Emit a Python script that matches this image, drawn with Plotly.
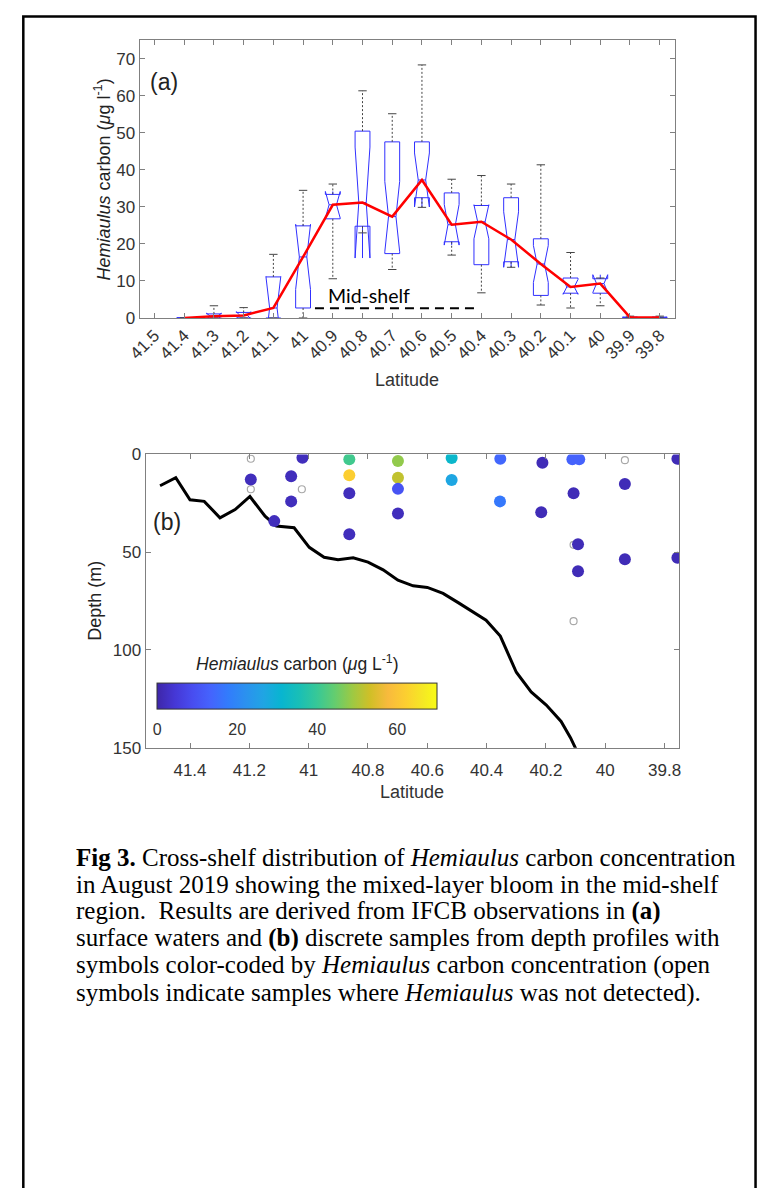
import plotly.graph_objects as go

W, H = 759, 1188

# ---------------- Panel (a) data ----------------
lat_ticks = [41.5, 41.4, 41.3, 41.2, 41.1, 41.0, 40.9, 40.8, 40.7, 40.6,
             40.5, 40.4, 40.3, 40.2, 40.1, 40.0, 39.9, 39.8]
lat_tick_labels = ["41.5", "41.4", "41.3", "41.2", "41.1", "41", "40.9", "40.8", "40.7",
                   "40.6", "40.5", "40.4", "40.3", "40.2", "40.1", "40", "39.9", "39.8"]

box_lat = [41.4, 41.3, 41.2, 41.1, 41.0, 40.9, 40.8, 40.7, 40.6,
           40.5, 40.4, 40.3, 40.2, 40.1, 40.0, 39.9, 39.8]
box_q1 = [0, 0, 0, 0, 2.7, 26.8, 24.8, 17.4, 32.5, 20.6, 14.4, 15.2, 6.1, 6.7, 6.7, 0, 0]
box_median = [0, 0.5, 0.7, 2.7, 16.5, 30.6, 31.2, 27.4, 37.3, 25.2, 26.0, 21.2, 14.6, 8.4, 9.3, 0.15, 0.15]
box_q3 = [0, 1.1, 1.5, 11.1, 24.9, 33.4, 50.5, 47.6, 47.6, 33.8, 30.4, 32.5, 21.4, 10.8, 10.6, 0.2, 0.2]
box_notch = [0, 0.8, 1.0, 8.5, 8.8, 3.6, 15.0, 9.5, 7.3, 5.5, 4.6, 7.5, 5.0, 2.0, 2.4, 0.1, 0.1]
whisker_low = [0, 0, 0, 0, 0, 10.6, 23.0, 13.1, 29.9, 17.0, 6.8, 13.7, 3.5, 2.7, 3.3, 0, 0]
whisker_high = [0, 3.3, 2.8, 17.2, 34.5, 36.2, 61.4, 55.2, 68.4, 37.5, 38.5, 36.2, 41.4, 17.7, 10.8, 0.5, 0.5]

midshelf_lat = [40.96, 40.42]
midshelf_level = [2.6, 2.6]

# ---------------- Panel (b) data ----------------
sample_lat = [41.195, 41.021, 41.059, 41.059, 41.116,
              40.863, 40.863, 40.863, 40.863,
              40.699, 40.699, 40.699, 40.699,
              40.518, 40.518,
              40.354, 40.355,
              40.212, 40.216,
              40.111, 40.088, 40.107, 40.092, 40.092,
              39.934, 39.934,
              39.757, 39.757]
sample_depth = [12.8, 1.7, 11.1, 24.0, 34.1,
                2.5, 10.6, 19.8, 40.8,
                3.4, 11.9, 17.6, 30.2,
                1.8, 13.1,
                2.2, 24.0,
                4.2, 29.6,
                2.5, 2.5, 19.8, 45.9, 59.8,
                15.1, 53.6,
                2.2, 52.8]
sample_carbon = [2, 2, 2, 2, 2,
                 41, 62, 2, 2,
                 48, 52, 10, 2,
                 32, 27,
                 14, 17,
                 1.5, 1.5,
                 13, 13, 1.5, 1.5, 1.5,
                 1.5, 1.5,
                 1.5, 1.5]

nd_lat = [41.195, 41.195, 41.023, 40.107, 40.107, 39.934]
nd_depth = [2.2, 17.8, 17.8, 46.2, 85.3, 2.9]

bottom_lat = [41.501, 41.448, 41.400, 41.352, 41.299, 41.248, 41.198, 41.147, 41.109,
              41.049, 40.998, 40.948, 40.901, 40.850, 40.800, 40.749, 40.699, 40.648,
              40.600, 40.547, 40.496, 40.450, 40.402, 40.354, 40.300, 40.250, 40.199,
              40.149, 40.117, 40.095]
bottom_depth = [16.0, 11.9, 23.2, 24.0, 32.4, 28.2, 21.5, 31.6, 36.6,
                37.5, 47.5, 52.6, 53.8, 52.9, 55.1, 59.0, 64.3, 67.2,
                68.0, 71.1, 75.8, 80.0, 84.8, 92.9, 111.4, 121.5, 128.2,
                136.6, 145.0, 152.0]

depth_ticks = [0, 50, 100, 150]
b_lat_ticks = [41.4, 41.2, 41.0, 40.8, 40.6, 40.4, 40.2, 40.0, 39.8]
b_lat_labels = ["41.4", "41.2", "41", "40.8", "40.6", "40.4", "40.2", "40", "39.8"]
cbar_ticks = [0, 20, 40, 60]

caption_lines = [
    "<b>Fig 3.</b> Cross-shelf distribution of <i>Hemiaulus</i> carbon concentration",
    "in August 2019 showing the mixed-layer bloom in the mid-shelf",
    "region.\u00a0 Results are derived from IFCB observations in <b>(a)</b>",
    "surface waters and <b>(b)</b> discrete samples from depth profiles with",
    "symbols color-coded by <i>Hemiaulus</i> carbon concentration (open",
    "symbols indicate samples where <i>Hemiaulus</i> was not detected).",
]

# MATLAB parula colormap (sampled)
parula = [
    (0.000, (62, 38, 168)), (0.063, (69, 55, 213)), (0.127, (72, 77, 240)),
    (0.190, (69, 99, 253)), (0.254, (50, 124, 252)), (0.317, (43, 145, 239)),
    (0.381, (32, 165, 227)), (0.444, (8, 181, 208)), (0.508, (25, 191, 182)),
    (0.571, (55, 200, 151)), (0.635, (100, 205, 111)), (0.698, (157, 201, 67)),
    (0.762, (209, 191, 39)), (0.825, (248, 186, 61)), (0.889, (252, 207, 48)),
    (0.952, (245, 233, 36)), (1.000, (249, 251, 21)),
]
colorscale = [[p, "rgb(%d,%d,%d)" % c] for p, c in parula]

FONT = "Liberation Sans, Arial, sans-serif"
TICKC = "#333333"
AXC = "#808080"


def px_x(x):
    return x / W


def px_y(y):
    return 1 - y / H


fig = go.Figure()

# ---- panel (a) ----
fig.add_trace(go.Box(
    x=box_lat, q1=box_q1, median=box_median, q3=box_q3,
    lowerfence=box_q1, upperfence=box_q3,
    notched=True, notchspan=box_notch, notchwidth=0.25,
    width=0.05, whiskerwidth=0,
    line=dict(color="#3030ff", width=1), fillcolor="rgba(0,0,0,0)",
    boxpoints=False, showlegend=False, hoverinfo="skip",
    xaxis="x", yaxis="y",
))

wx, wy = [], []
for la, lo, q1, q3, hi in zip(box_lat, whisker_low, box_q1, box_q3, whisker_high):
    wx += [la, la, None, la, la, None]
    wy += [q3, hi, None, q1, lo, None]
fig.add_trace(go.Scatter(
    x=wx, y=wy, mode="lines", line=dict(color="#444444", width=1, dash="2px,2px"),
    showlegend=False, hoverinfo="skip", xaxis="x", yaxis="y"))
fig.add_trace(go.Scatter(
    x=box_lat + box_lat, y=whisker_high + whisker_low, mode="markers",
    marker=dict(symbol="line-ew", size=6, line=dict(color="#444444", width=1)),
    showlegend=False, hoverinfo="skip", xaxis="x", yaxis="y"))

fig.add_trace(go.Scatter(
    x=box_lat, y=box_median, mode="lines", line=dict(color="#ff0000", width=2.5),
    showlegend=False, hoverinfo="skip", xaxis="x", yaxis="y"))

fig.add_trace(go.Scatter(
    x=midshelf_lat, y=midshelf_level, mode="lines",
    line=dict(color="black", width=2, dash="9px,6px"),
    showlegend=False, hoverinfo="skip", xaxis="x", yaxis="y"))

# ---- panel (b) ----
fig.add_trace(go.Scatter(
    x=bottom_lat, y=bottom_depth, mode="lines", line=dict(color="black", width=3),
    showlegend=False, hoverinfo="skip", xaxis="x2", yaxis="y2"))

fig.add_trace(go.Scatter(
    x=nd_lat, y=nd_depth, mode="markers",
    marker=dict(symbol="circle-open", size=7, color="#a8a8a8", line=dict(width=1.2)),
    showlegend=False, hoverinfo="skip", xaxis="x2", yaxis="y2"))

fig.add_trace(go.Scatter(
    x=sample_lat, y=sample_depth, mode="markers",
    marker=dict(
        size=12, color=sample_carbon, colorscale=colorscale, cmin=0, cmax=70,
        line=dict(width=0),
        colorbar=dict(
            orientation="h", x=px_x(289.6), xanchor="center",
            y=px_y(702), yanchor="middle",
            len=300, lenmode="pixels", thickness=26, thicknessmode="pixels",
            outlinecolor="#333333", outlinewidth=1,
            tickvals=cbar_ticks, ticks="outside", ticklen=7, tickcolor="rgba(0,0,0,0)",
            tickfont=dict(family=FONT, size=16, color=TICKC),
            title=dict(text="<i>Hemiaulus</i> carbon (<i>\u03bc</i>g L<sup>-1</sup>)",
                       side="top", font=dict(family=FONT, size=17.5, color="#222222")),
            bgcolor="rgba(0,0,0,0)",
        ),
    ),
    showlegend=False, hoverinfo="skip", xaxis="x2", yaxis="y2"))

axis_common = dict(
    showline=True, linecolor=AXC, linewidth=1, mirror="ticks",
    ticks="inside", ticklen=5, tickcolor=AXC, tickwidth=1,
    showgrid=False, zeroline=False,
    tickfont=dict(family=FONT, size=17, color=TICKC),
)

fig.update_layout(
    width=W, height=H,
    margin=dict(l=0, r=0, t=0, b=0),
    paper_bgcolor="white", plot_bgcolor="white",
    showlegend=False,
    xaxis=dict(domain=[px_x(129), px_x(674)], range=[41.55, 39.75],
               tickvals=lat_ticks, ticktext=lat_tick_labels, tickangle=-45,
               anchor="y", **axis_common),
    yaxis=dict(domain=[px_y(314), px_y(32)], range=[0, 75],
               tickvals=[0, 10, 20, 30, 40, 50, 60, 70],
               anchor="x", **axis_common),
    xaxis2=dict(domain=[px_x(135), px_x(679)], range=[41.55, 39.75],
                tickvals=b_lat_ticks, ticktext=b_lat_labels, ticklabelstandoff=7,
                anchor="y2", **axis_common),
    yaxis2=dict(domain=[px_y(750.7), px_y(452.7)], range=[150, 0],
                tickvals=depth_ticks, anchor="x2", **axis_common),
)

ann = []
# axis titles
ann.append(dict(text="<i>Hemiaulus</i> carbon (<i>\u03bc</i>g l<sup>-1</sup>)",
                x=px_x(91), y=px_y(173), textangle=-90,
                font=dict(family=FONT, size=18, color="#222222")))
ann.append(dict(text="Latitude", x=px_x(401), y=px_y(377),
                font=dict(family=FONT, size=18, color="#333333")))
ann.append(dict(text="Depth (m)", x=px_x(84), y=px_y(601), textangle=-90,
                font=dict(family=FONT, size=18, color="#222222")))
ann.append(dict(text="Latitude", x=px_x(407), y=px_y(796),
                font=dict(family=FONT, size=18, color="#333333")))
# panel labels
ann.append(dict(text="(a)", x=px_x(138), y=px_y(74), xanchor="left",
                font=dict(family=FONT, size=23, color="#222222")))
ann.append(dict(text="(b)", x=px_x(141), y=px_y(521), xanchor="left",
                font=dict(family=FONT, size=23, color="#222222")))
ann.append(dict(text="Mid-shelf", x=px_x(363), y=px_y(291), xanchor="center",
                font=dict(family="Lato, Open Sans, sans-serif", size=19.5, color="black")))
# caption
cap_y = [862, 889.5, 917, 944.5, 972, 999.5]
for line, yy in zip(caption_lines, cap_y):
    ann.append(dict(text=line, x=px_x(62), y=px_y(yy), xanchor="left",
                    font=dict(family="Liberation Serif, Times New Roman, serif",
                              size=25, color="black")))
for a in ann:
    a.update(xref="paper", yref="paper", showarrow=False)
    a.setdefault("xanchor", "center")
    a.setdefault("yanchor", "middle")
fig.update_layout(annotations=ann)

# outer border
fig.add_shape(type="rect", xref="paper", yref="paper",
              x0=px_x(10.5), x1=px_x(756.5), y0=-0.02, y1=px_y(7.5),
              line=dict(color="black", width=2.5), fillcolor="rgba(0,0,0,0)")

fig.write_html("out.html")
